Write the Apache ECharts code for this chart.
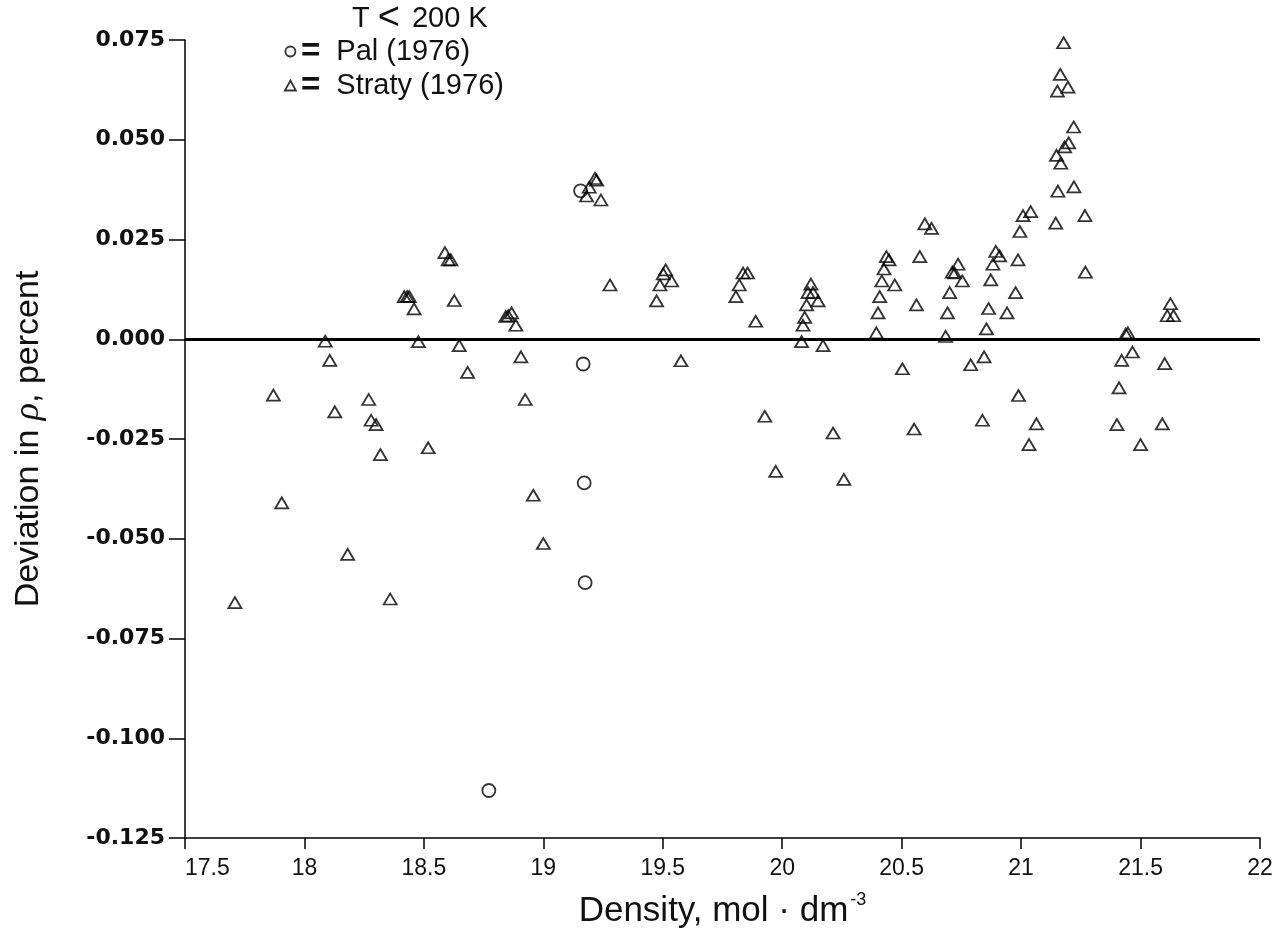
<!DOCTYPE html>
<html>
<head>
<meta charset="utf-8">
<script src="https://cdn.jsdelivr.net/npm/echarts@6/dist/echarts.min.js"></script>
<style>
html,body{margin:0;padding:0;background:#fff;}
#chart{width:1277px;height:928px;}
</style>
</head>
<body>
<div id="chart"></div>
<script>
// Straty (1976): density (mol/dm3) and deviation (percent)
var stratyX = [17.709,17.870,17.905,18.087,18.106,18.127,18.181,18.269,18.279,18.300,
  18.318,18.359,18.418,18.430,18.439,18.459,18.477,18.518,18.588,18.602,
  18.613,18.627,18.648,18.683,18.843,18.853,18.867,18.885,18.906,18.924,
  18.958,19.000,19.181,19.192,19.216,19.223,19.241,19.279,19.474,19.488,
  19.502,19.512,19.537,19.576,19.806,19.820,19.836,19.855,19.889,19.927,
  19.973,20.081,20.087,20.094,20.102,20.108,20.120,20.129,20.150,20.171,
  20.213,20.258,20.394,20.401,20.408,20.417,20.426,20.436,20.447,20.471,
  20.503,20.552,20.562,20.576,20.597,20.625,20.684,20.692,20.701,20.712,
  20.722,20.736,20.754,20.789,20.838,20.845,20.855,20.864,20.873,20.882,
  20.894,20.910,20.941,20.977,20.987,20.989,20.995,21.008,21.040,21.033,
  21.064,21.145,21.154,21.148,21.166,21.182,21.199,21.221,21.220,21.152,
  21.196,21.164,21.178,21.267,21.269,21.401,21.410,21.421,21.438,21.447,
  21.466,21.500,21.591,21.601,21.612,21.638,21.625];
var stratyY = [-0.0660,-0.0140,-0.0410,-0.0005,-0.0053,-0.0182,-0.0539,-0.0151,-0.0203,-0.0214,
  -0.0289,-0.0651,0.0107,0.0107,0.0107,0.0076,-0.0006,-0.0272,0.0217,0.0199,
  0.0199,0.0097,-0.0016,-0.0083,0.0057,0.0059,0.0066,0.0035,-0.0044,-0.0151,
  -0.0391,-0.0512,0.0359,0.0381,0.0403,0.0399,0.0349,0.0136,0.0096,0.0136,
  0.0164,0.0174,0.0146,-0.0054,0.0107,0.0136,0.0166,0.0166,0.0045,-0.0193,
  -0.0331,-0.0006,0.0035,0.0055,0.0086,0.0117,0.0138,0.0117,0.0096,-0.0016,
  -0.0235,-0.0351,0.0016,0.0066,0.0107,0.0146,0.0176,0.0207,0.0199,0.0136,
  -0.0074,-0.0225,0.0086,0.0207,0.0289,0.0278,0.0007,0.0066,0.0117,0.0168,
  0.0166,0.0188,0.0146,-0.0064,-0.0203,-0.0044,0.0026,0.0077,0.0149,0.0188,
  0.0220,0.0209,0.0066,0.0117,0.0199,-0.0141,0.0270,0.0310,0.0320,-0.0264,
  -0.0212,0.0291,0.0371,0.0461,0.0441,0.0482,0.0492,0.0382,0.0532,0.0622,
  0.0632,0.0664,0.0743,0.0310,0.0168,-0.0214,-0.0122,-0.0053,0.0013,0.0016,
  -0.0032,-0.0264,-0.0212,-0.0061,0.0059,0.0059,0.0089];
// Pal (1976)
var palX = [19.156,19.167,19.171,19.175,18.772];
var palY = [0.0372,-0.0062,-0.0360,-0.0610,-0.1131];

var xTicks = {min:17.5, max:22, interval:0.5};
var yTicks = {min:-0.125, max:0.075, interval:0.025};

function pairs(xs, ys){ return xs.map(function(x,i){ return [x, ys[i]]; }); }

var open = {color:'rgba(0,0,0,0)', borderColor:'#000', borderWidth:1.8};
var fontSans = 'Liberation Sans, Arial, sans-serif';

var chart = echarts.init(document.getElementById('chart'), null, {renderer:'canvas'});
chart.setOption({
  backgroundColor:'#fff',
  animation:false,
  title:{
    text:'T{lt|<}200 K', left:352, top:3, padding:[0,0,0,0],
    textStyle:{
      fontFamily:fontSans, fontSize:29, fontWeight:'normal', color:'#111', lineHeight:32,
      rich:{lt:{fontFamily:fontSans, fontSize:38, color:'#111', lineHeight:32, padding:[0,12,0,8]}}
    }
  },
  legend:{
    orient:'vertical', left:284, top:35, padding:0,
    itemWidth:11, itemHeight:10, itemGap:1,
    data:[
      {name:'Pal (1976)', icon:'circle', itemStyle:open},
      {name:'Straty (1976)', icon:'triangle', itemStyle:open}
    ],
    formatter:function(n){ return '{eq|=}  {t|' + n + '}'; },
    textStyle:{
      fontFamily:fontSans, fontSize:29, color:'#111', lineHeight:30,
      rich:{
        eq:{fontFamily:fontSans, fontSize:33, fontWeight:'bold', color:'#111', lineHeight:30},
        t:{fontFamily:fontSans, fontSize:29, color:'#111', lineHeight:30}
      }
    }
  },
  grid:{left:185, right:17, top:40, bottom:90, containLabel:false, outerBoundsMode:'none'},
  xAxis:{
    type:'value', min:xTicks.min, max:xTicks.max, interval:xTicks.interval,
    name:'Density, mol · dm{sup|-3}', nameLocation:'middle', nameGap:53,
    nameTextStyle:{
      fontFamily:fontSans, fontSize:35, color:'#111', lineHeight:40,
      rich:{
        sup:{fontFamily:fontSans, fontSize:18, color:'#111', verticalAlign:'top', lineHeight:40, padding:[0,0,18,2]}
      }
    },
    axisLine:{show:true, onZero:false, lineStyle:{color:'#000', width:1.5}},
    axisTick:{show:true, length:11, lineStyle:{color:'#000', width:1.5}},
    splitLine:{show:false},
    axisLabel:{
      margin:19, fontFamily:fontSans, fontSize:23, color:'#111',
      alignMinLabel:'left', showMinLabel:true, showMaxLabel:true
    }
  },
  yAxis:{
    type:'value', min:yTicks.min, max:yTicks.max, interval:yTicks.interval,
    name:'Deviation in {i|ρ}, percent', nameLocation:'middle', nameGap:138, nameRotate:90,
    nameTextStyle:{
      fontFamily:fontSans, fontSize:34, color:'#111',
      rich:{
        i:{fontFamily:'Liberation Serif, DejaVu Serif, serif', fontStyle:'italic', fontSize:36, color:'#111'}
      }
    },
    axisLine:{show:true, onZero:false, lineStyle:{color:'#000', width:1.5}},
    axisTick:{show:true, length:16, lineStyle:{color:'#000', width:1.5}},
    splitLine:{show:false},
    axisLabel:{
      margin:20, fontFamily:'DejaVu Sans, sans-serif', fontSize:22, fontWeight:'bold', color:'#111',
      formatter:function(v){ if (Math.abs(v) < 1e-9) return '0.000'; return v.toFixed(3); }
    }
  },
  series:[
    {
      name:'Pal (1976)', type:'scatter', symbol:'circle', symbolSize:13,
      itemStyle:open, data:pairs(palX, palY), z:3
    },
    {
      name:'Straty (1976)', type:'scatter', symbol:'triangle', symbolSize:[13,11],
      itemStyle:open, data:pairs(stratyX, stratyY), z:3,
      markLine:{
        silent:true, symbol:['none','none'], label:{show:false},
        lineStyle:{color:'#000', width:3, type:'solid'},
        data:[{yAxis:0}], animation:false
      }
    }
  ]
});
</script>
</body>
</html>
